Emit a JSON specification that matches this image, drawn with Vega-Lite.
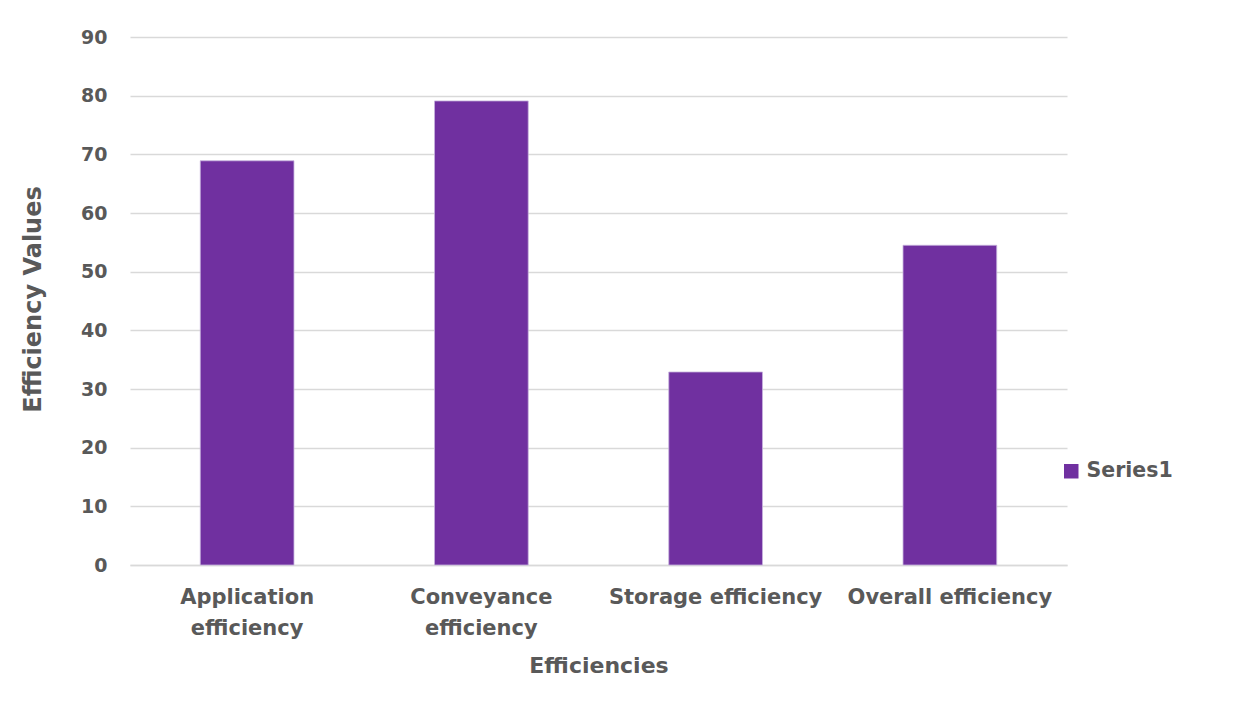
{
  "$schema": "https://vega.github.io/schema/vega-lite/v6.json",
  "width": 937,
  "height": 528,
  "autosize": {"type": "none"},
  "padding": {"left": 130, "top": 37, "right": 177, "bottom": 144},
  "background": "white",
  "data": {
    "values": [
      {"efficiency": "Application efficiency", "value": 68.9, "series": "Series1"},
      {"efficiency": "Conveyance efficiency", "value": 79.1, "series": "Series1"},
      {"efficiency": "Storage efficiency", "value": 32.9, "series": "Series1"},
      {"efficiency": "Overall efficiency", "value": 54.5, "series": "Series1"}
    ]
  },
  "mark": {"type": "bar", "stroke": "#c7b3dd", "strokeWidth": 0.8},
  "encoding": {
    "x": {
      "field": "efficiency",
      "type": "nominal",
      "sort": null,
      "scale": {"paddingInner": 0.6, "paddingOuter": 0.3},
      "axis": {
        "title": "Efficiencies",
        "labelAngle": 0,
        "labelExpr": "datum.value == 'Application efficiency' ? ['Application', 'efficiency'] : datum.value == 'Conveyance efficiency' ? ['Conveyance', 'efficiency'] : datum.value",
        "labelLineHeight": 31,
        "labelPadding": 32,
        "labelBaseline": "middle",
        "labelLimit": 400,
        "labelFontSize": 21,
        "ticks": false,
        "domainColor": "#d9d9d9",
        "domainWidth": 1.5,
        "titleY": 100,
        "titleBaseline": "middle",
        "titleFontSize": 22
      }
    },
    "y": {
      "field": "value",
      "type": "quantitative",
      "scale": {"domain": [0, 90]},
      "axis": {
        "title": "Efficiency Values",
        "values": [0, 10, 20, 30, 40, 50, 60, 70, 80, 90],
        "domain": false,
        "ticks": false,
        "labelPadding": 23,
        "labelFontSize": 19,
        "gridColor": "#d9d9d9",
        "gridWidth": 1.5,
        "titleX": -97,
        "titleY": 262,
        "titleAngle": -90,
        "titleAlign": "center",
        "titleBaseline": "middle",
        "titleFontSize": 24
      }
    },
    "color": {
      "field": "series",
      "type": "nominal",
      "scale": {"range": ["#7030a0"]},
      "legend": {
        "title": null,
        "orient": "none",
        "legendX": 931,
        "legendY": 424,
        "symbolType": "square",
        "symbolSize": 210,
        "symbolStrokeWidth": 0,
        "labelFontSize": 20.5,
        "labelFont": "DejaVu Sans",
        "labelFontWeight": "bold",
        "labelColor": "#595959",
        "labelOffset": 5
      }
    }
  },
  "config": {
    "view": {"stroke": null},
    "axis": {
      "labelFont": "DejaVu Sans",
      "labelFontWeight": "bold",
      "labelColor": "#595959",
      "titleFont": "DejaVu Sans",
      "titleFontWeight": "bold",
      "titleColor": "#595959"
    }
  }
}
